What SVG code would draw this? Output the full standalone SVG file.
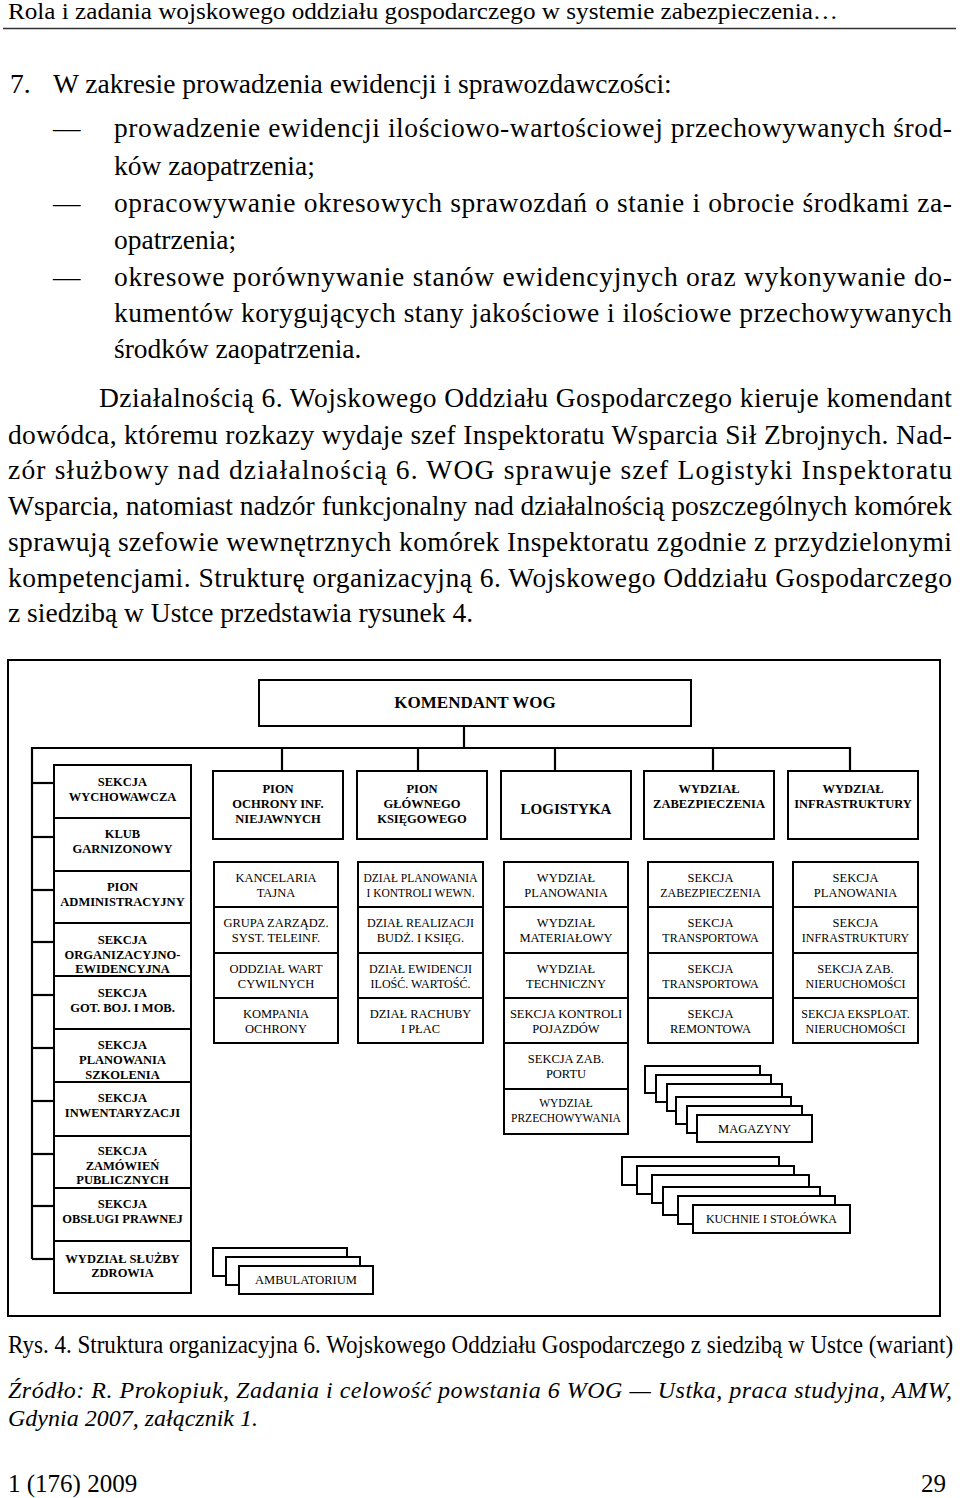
<svg xmlns="http://www.w3.org/2000/svg" width="960" height="1498" viewBox="0 0 960 1498">
<style>
text{font-family:"Liberation Serif","Times New Roman",serif;fill:#000}
.hd{font-size:24px}
.bd{font-size:27.5px}
.cap{font-size:25px}
.src{font-size:24px;font-style:italic}
.b{font-size:12.5px;font-weight:bold;text-anchor:middle}
.r{font-size:12.5px;text-anchor:middle}
.rs{font-size:11.5px;text-anchor:middle}
.box{fill:#fff;stroke:#000;stroke-width:2}
.ln{fill:none;stroke:#000;stroke-width:2.2}
</style>
<rect width="960" height="1498" fill="#fff"/>
<!-- page text -->
<text class="hd" x="8" y="19" textLength="830" lengthAdjust="spacingAndGlyphs">Rola i zadania wojskowego oddziału gospodarczego w systemie zabezpieczenia…</text>
<line x1="3" y1="28.5" x2="956" y2="28.5" stroke="#333" stroke-width="1.5"/>
<text class="bd" x="10" y="93">7.</text>
<text class="bd" x="53" y="93">W zakresie prowadzenia ewidencji i sprawozdawczości:</text>
<text class="bd" x="53" y="137">—</text>
<text class="bd" x="114" y="137" textLength="838" lengthAdjust="spacing">prowadzenie ewidencji ilościowo-wartościowej przechowywanych środ-</text>
<text class="bd" x="114" y="175">ków zaopatrzenia;</text>
<text class="bd" x="53" y="212">—</text>
<text class="bd" x="114" y="212" textLength="838" lengthAdjust="spacing">opracowywanie okresowych sprawozdań o stanie i obrocie środkami za-</text>
<text class="bd" x="114" y="249">opatrzenia;</text>
<text class="bd" x="53" y="286">—</text>
<text class="bd" x="114" y="286" textLength="838" lengthAdjust="spacing">okresowe porównywanie stanów ewidencyjnych oraz wykonywanie do-</text>
<text class="bd" x="114" y="322" textLength="838" lengthAdjust="spacing">kumentów korygujących stany jakościowe i ilościowe przechowywanych</text>
<text class="bd" x="114" y="358">środków zaopatrzenia.</text>
<text class="bd" x="99" y="407" textLength="853" lengthAdjust="spacing">Działalnością 6. Wojskowego Oddziału Gospodarczego kieruje komendant</text>
<text class="bd" x="8" y="444" textLength="944" lengthAdjust="spacing">dowódca, któremu rozkazy wydaje szef Inspektoratu Wsparcia Sił Zbrojnych. Nad-</text>
<text class="bd" x="8" y="479" textLength="944" lengthAdjust="spacing">zór służbowy nad działalnością 6. WOG sprawuje szef Logistyki Inspektoratu</text>
<text class="bd" x="8" y="515" textLength="944" lengthAdjust="spacing">Wsparcia, natomiast nadzór funkcjonalny nad działalnością poszczególnych komórek</text>
<text class="bd" x="8" y="551" textLength="944" lengthAdjust="spacing">sprawują szefowie wewnętrznych komórek Inspektoratu zgodnie z przydzielonymi</text>
<text class="bd" x="8" y="587" textLength="944" lengthAdjust="spacing">kompetencjami. Strukturę organizacyjną 6. Wojskowego Oddziału Gospodarczego</text>
<text class="bd" x="8" y="622">z siedzibą w Ustce przedstawia rysunek 4.</text>

<!-- outer frame -->
<rect x="8" y="660" width="932" height="656" fill="none" stroke="#000" stroke-width="2"/>

<!-- connectors -->
<g id="connectors" class="ln">
<line x1="464" y1="726" x2="464" y2="748"/>
<polyline points="32,1259 32,748 850,748 850,771"/>
<line x1="282" y1="748" x2="282" y2="771"/>
<line x1="418" y1="748" x2="418" y2="771"/>
<line x1="555" y1="748" x2="555" y2="771"/>
<line x1="713" y1="748" x2="713" y2="771"/>
<line x1="32" y1="783" x2="54" y2="783"/>
<line x1="32" y1="837" x2="54" y2="837"/>
<line x1="32" y1="890" x2="54" y2="890"/>
<line x1="32" y1="942" x2="54" y2="942"/>
<line x1="32" y1="995" x2="54" y2="995"/>
<line x1="32" y1="1048" x2="54" y2="1048"/>
<line x1="32" y1="1101" x2="54" y2="1101"/>
<line x1="32" y1="1154" x2="54" y2="1154"/>
<line x1="32" y1="1206" x2="54" y2="1206"/>
<line x1="32" y1="1259" x2="54" y2="1259"/>
</g>

<!-- top -->
<g id="komendant"><rect class="box" x="259" y="680" width="432" height="46"/><text x="475" y="708" style="font-size:17px;font-weight:bold;text-anchor:middle">KOMENDANT WOG</text></g>

<g id="pion-ochrony"><rect class="box" x="213" y="771" width="130" height="68"/><text class="b" x="278" y="793">PION</text><text class="b" x="278" y="808">OCHRONY INF.</text><text class="b" x="278" y="823">NIEJAWNYCH</text></g>
<g id="pion-gk"><rect class="box" x="357" y="771" width="130" height="68"/><text class="b" x="422" y="793">PION</text><text class="b" x="422" y="808">GŁÓWNEGO</text><text class="b" x="422" y="823">KSIĘGOWEGO</text></g>
<g id="logistyka"><rect class="box" x="501" y="771" width="130" height="68"/><text x="566" y="814" style="font-size:15px;font-weight:bold;text-anchor:middle">LOGISTYKA</text></g>
<g id="wydz-zab"><rect class="box" x="644" y="771" width="130" height="68"/><text class="b" x="709" y="793">WYDZIAŁ</text><text class="b" x="709" y="808">ZABEZPIECZENIA</text></g>
<g id="wydz-infra"><rect class="box" x="788" y="771" width="130" height="68"/><text class="b" x="853" y="793">WYDZIAŁ</text><text class="b" x="853" y="808">INFRASTRUKTURY</text></g>

<!-- left column -->
<g id="l1"><rect class="box" x="54" y="765" width="137" height="53"/><text class="b" x="122.5" y="786">SEKCJA</text><text class="b" x="122.5" y="801">WYCHOWAWCZA</text></g>
<g id="l2"><rect class="box" x="54" y="818" width="137" height="53"/><text class="b" x="122.5" y="838">KLUB</text><text class="b" x="122.5" y="853">GARNIZONOWY</text></g>
<g id="l3"><rect class="box" x="54" y="871" width="137" height="52"/><text class="b" x="122.5" y="891">PION</text><text class="b" x="122.5" y="906">ADMINISTRACYJNY</text></g>
<g id="l4"><rect class="box" x="54" y="923" width="137" height="53"/><text class="b" x="122.5" y="944">SEKCJA</text><text class="b" x="122.5" y="958.5">ORGANIZACYJNO-</text><text class="b" x="122.5" y="973">EWIDENCYJNA</text></g>
<g id="l5"><rect class="box" x="54" y="976" width="137" height="53"/><text class="b" x="122.5" y="997">SEKCJA</text><text class="b" x="122.5" y="1012">GOT. BOJ. I MOB.</text></g>
<g id="l6"><rect class="box" x="54" y="1029" width="137" height="53"/><text class="b" x="122.5" y="1049">SEKCJA</text><text class="b" x="122.5" y="1064">PLANOWANIA</text><text class="b" x="122.5" y="1079">SZKOLENIA</text></g>
<g id="l7"><rect class="box" x="54" y="1082" width="137" height="54"/><text class="b" x="122.5" y="1102">SEKCJA</text><text class="b" x="122.5" y="1117">INWENTARYZACJI</text></g>
<g id="l8"><rect class="box" x="54" y="1136" width="137" height="52"/><text class="b" x="122.5" y="1155">SEKCJA</text><text class="b" x="122.5" y="1170">ZAMÓWIEŃ</text><text class="b" x="122.5" y="1184">PUBLICZNYCH</text></g>
<g id="l9"><rect class="box" x="54" y="1188" width="137" height="53"/><text class="b" x="122.5" y="1208">SEKCJA</text><text class="b" x="122.5" y="1223">OBSŁUGI PRAWNEJ</text></g>
<g id="l10"><rect class="box" x="54" y="1241" width="137" height="52"/><text class="b" x="122.5" y="1263">WYDZIAŁ SŁUŻBY</text><text class="b" x="122.5" y="1277">ZDROWIA</text></g>

<!-- column A -->
<g id="a1"><rect class="box" x="214" y="862" width="124" height="45"/><text class="r" x="276" y="882">KANCELARIA</text><text class="r" x="276" y="896.5">TAJNA</text></g>
<g id="a2"><rect class="box" x="214" y="907" width="124" height="46"/><text class="r" x="276" y="927">GRUPA ZARZĄDZ.</text><text class="r" x="276" y="941.5">SYST. TELEINF.</text></g>
<g id="a3"><rect class="box" x="214" y="953" width="124" height="45"/><text class="r" x="276" y="973">ODDZIAŁ WART</text><text class="r" x="276" y="987.5">CYWILNYCH</text></g>
<g id="a4"><rect class="box" x="214" y="998" width="124" height="45"/><text class="r" x="276" y="1018">KOMPANIA</text><text class="r" x="276" y="1032.5">OCHRONY</text></g>

<!-- column B -->
<g id="b1"><rect class="box" x="358" y="862" width="125" height="45"/><text class="rs" x="420.5" y="882">DZIAŁ PLANOWANIA</text><text class="rs" x="420.5" y="896.5">I KONTROLI WEWN.</text></g>
<g id="b2"><rect class="box" x="358" y="907" width="125" height="46"/><text class="r" x="420.5" y="927" style="font-size:12px">DZIAŁ REALIZACJI</text><text class="r" x="420.5" y="941.5">BUDŻ. I KSIĘG.</text></g>
<g id="b3"><rect class="box" x="358" y="953" width="125" height="45"/><text class="r" x="420.5" y="973" style="font-size:12px">DZIAŁ EWIDENCJI</text><text class="r" x="420.5" y="987.5" style="font-size:12px">ILOŚĆ. WARTOŚĆ.</text></g>
<g id="b4"><rect class="box" x="358" y="998" width="125" height="45"/><text class="r" x="420.5" y="1018">DZIAŁ RACHUBY</text><text class="r" x="420.5" y="1032.5">I PŁAC</text></g>

<!-- column C -->
<g id="c1"><rect class="box" x="504" y="862" width="124" height="45"/><text class="r" x="566" y="882">WYDZIAŁ</text><text class="r" x="566" y="896.5">PLANOWANIA</text></g>
<g id="c2"><rect class="box" x="504" y="907" width="124" height="46"/><text class="r" x="566" y="927">WYDZIAŁ</text><text class="r" x="566" y="941.5">MATERIAŁOWY</text></g>
<g id="c3"><rect class="box" x="504" y="953" width="124" height="45"/><text class="r" x="566" y="973">WYDZIAŁ</text><text class="r" x="566" y="987.5">TECHNICZNY</text></g>
<g id="c4"><rect class="box" x="504" y="998" width="124" height="45"/><text class="r" x="566" y="1018">SEKCJA KONTROLI</text><text class="r" x="566" y="1032.5">POJAZDÓW</text></g>
<g id="c5"><rect class="box" x="504" y="1043" width="124" height="46"/><text class="r" x="566" y="1063">SEKCJA ZAB.</text><text class="r" x="566" y="1077.5">PORTU</text></g>
<g id="c6"><rect class="box" x="504" y="1089" width="124" height="45"/><text class="rs" x="566" y="1107">WYDZIAŁ</text><text class="rs" x="566" y="1121.5">PRZECHOWYWANIA</text></g>

<!-- column D -->
<g id="d1"><rect class="box" x="648" y="862" width="125" height="45"/><text class="r" x="710.5" y="882">SEKCJA</text><text class="r" x="710.5" y="896.5" style="font-size:12px">ZABEZPIECZENIA</text></g>
<g id="d2"><rect class="box" x="648" y="907" width="125" height="46"/><text class="r" x="710.5" y="927">SEKCJA</text><text class="r" x="710.5" y="941.5" style="font-size:12px">TRANSPORTOWA</text></g>
<g id="d3"><rect class="box" x="648" y="953" width="125" height="45"/><text class="r" x="710.5" y="973">SEKCJA</text><text class="r" x="710.5" y="987.5" style="font-size:12px">TRANSPORTOWA</text></g>
<g id="d4"><rect class="box" x="648" y="998" width="125" height="45"/><text class="r" x="710.5" y="1018">SEKCJA</text><text class="r" x="710.5" y="1032.5">REMONTOWA</text></g>

<!-- column E -->
<g id="e1"><rect class="box" x="793" y="862" width="125" height="45"/><text class="r" x="855.5" y="882">SEKCJA</text><text class="r" x="855.5" y="896.5">PLANOWANIA</text></g>
<g id="e2"><rect class="box" x="793" y="907" width="125" height="46"/><text class="r" x="855.5" y="927">SEKCJA</text><text class="r" x="855.5" y="941.5" style="font-size:12px">INFRASTRUKTURY</text></g>
<g id="e3"><rect class="box" x="793" y="953" width="125" height="45"/><text class="r" x="855.5" y="973">SEKCJA ZAB.</text><text class="r" x="855.5" y="987.5" style="font-size:12px">NIERUCHOMOŚCI</text></g>
<g id="e4"><rect class="box" x="793" y="998" width="125" height="45"/><text class="r" x="855.5" y="1018" style="font-size:12px">SEKCJA EKSPLOAT.</text><text class="r" x="855.5" y="1032.5" style="font-size:12px">NIERUCHOMOŚCI</text></g>

<!-- stacks -->
<g id="magazyny">
<rect class="box" x="645" y="1066" width="115" height="27"/>
<rect class="box" x="656" y="1075" width="115" height="27"/>
<rect class="box" x="667" y="1084" width="115" height="27"/>
<rect class="box" x="676" y="1097" width="115" height="27"/>
<rect class="box" x="687" y="1106" width="115" height="27"/>
<rect class="box" x="697" y="1115" width="115" height="27"/>
<text class="r" x="754.5" y="1133">MAGAZYNY</text>
</g>
<g id="kuchnie">
<rect class="box" x="622" y="1157" width="157" height="28"/>
<rect class="box" x="637" y="1166" width="157" height="28"/>
<rect class="box" x="652" y="1175" width="157" height="28"/>
<rect class="box" x="663" y="1187" width="157" height="28"/>
<rect class="box" x="678" y="1196" width="157" height="28"/>
<rect class="box" x="693" y="1205" width="157" height="28"/>
<text class="r" x="771.5" y="1223" style="font-size:12px">KUCHNIE I STOŁÓWKA</text>
</g>
<g id="ambulatorium">
<rect class="box" x="213" y="1248" width="134" height="28"/>
<rect class="box" x="226" y="1257" width="134" height="28"/>
<rect class="box" x="239" y="1266" width="134" height="28"/>
<text class="r" x="306" y="1284">AMBULATORIUM</text>
</g>

<!-- caption and footer -->
<text class="cap" transform="translate(8 1353) scale(0.922 1)" x="0" y="0">Rys. 4. Struktura organizacyjna 6. Wojskowego Oddziału Gospodarczego z siedzibą w Ustce (wariant)</text>
<text class="src" x="8" y="1398" textLength="944" lengthAdjust="spacing">Źródło: R. Prokopiuk, Zadania i celowość powstania 6 WOG — Ustka, praca studyjna, AMW,</text>
<text class="src" x="8" y="1426">Gdynia 2007, załącznik 1.</text>
<text class="cap" x="8" y="1492">1 (176) 2009</text>
<text class="cap" x="946" y="1492" text-anchor="end">29</text>
</svg>
